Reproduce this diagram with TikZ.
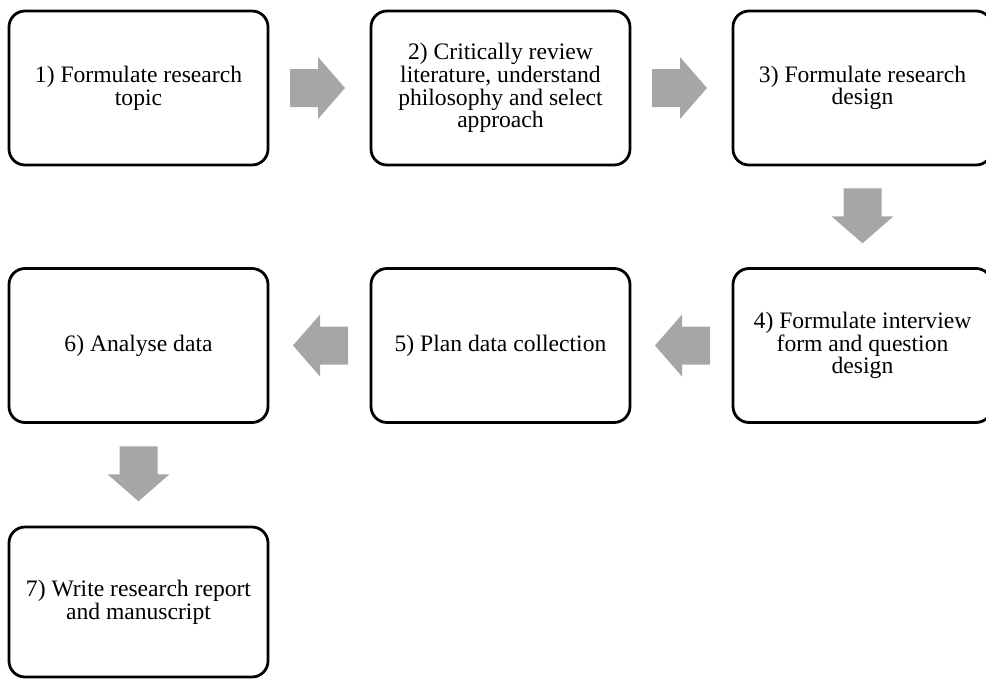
\documentclass[tikz,border=0pt]{standalone}
\usepackage{fontspec}
\setmainfont{Liberation Serif}
\usetikzlibrary{calc}
\definecolor{arrowgray}{HTML}{A6A6A6}
\begin{document}
\begin{tikzpicture}[x=1pt,y=-1pt,
  stepbox/.style={draw=black, line width=2.8pt, rounded corners=16pt,
    minimum width=259pt, minimum height=154pt, align=center, inner sep=0pt,
    font=\fontsize{23.6}{22.7}\selectfont},
  rarrow/.pic={\fill[arrowgray] (-27.5,-19) -- (0.5,-19) -- (0.5,-31) -- (27.5,0) -- (0.5,31) -- (0.5,19) -- (-27.5,19) -- cycle;},
  larrow/.pic={\fill[arrowgray] (27.5,-19) -- (-0.5,-19) -- (-0.5,-31) -- (-27.5,0) -- (-0.5,31) -- (-0.5,19) -- (27.5,19) -- cycle;},
  darrow/.pic={\fill[arrowgray] (-19,-27.5) -- (-19,0.5) -- (-31,0.5) -- (0,27.5) -- (31,0.5) -- (19,0.5) -- (19,-27.5) -- cycle;}]
\useasboundingbox (0,0) rectangle (986,678);
\clip (0,0) rectangle (986,678);
\node[stepbox] (b1) at (138.5,88) {1) Formulate research\\topic};
\node[stepbox] (b2) at (500.5,88) {2) Critically review\\literature, understand\\philosophy and select\\approach};
\node[stepbox] (b3) at (862.5,88) {3) Formulate research\\design};
\node[stepbox] (b4) at (862.5,345.5) {4) Formulate interview\\form and question\\design};
\node[stepbox] (b5) at (500.5,345.5) {5) Plan data collection};
\node[stepbox] (b6) at (138.5,345.5) {6) Analyse data};
\node[stepbox, minimum height=150pt] (b7) at (138.5,602) {7) Write research report\\and manuscript};
\pic at ($(b1.east)!0.5!(b2.west)+(-2,0)$) {rarrow};
\pic at ($(b2.east)!0.5!(b3.west)+(-2,0)$) {rarrow};
\pic at ($(b3.south)!0.5!(b4.north)+(0,-1)$) {darrow};
\pic at ($(b4.west)!0.5!(b5.east)+(1,0)$) {larrow};
\pic at ($(b5.west)!0.5!(b6.east)+(1,0)$) {larrow};
\pic at ($(b6.south)!0.5!(b7.north)+(0,-1)$) {darrow};
\end{tikzpicture}
\end{document}
